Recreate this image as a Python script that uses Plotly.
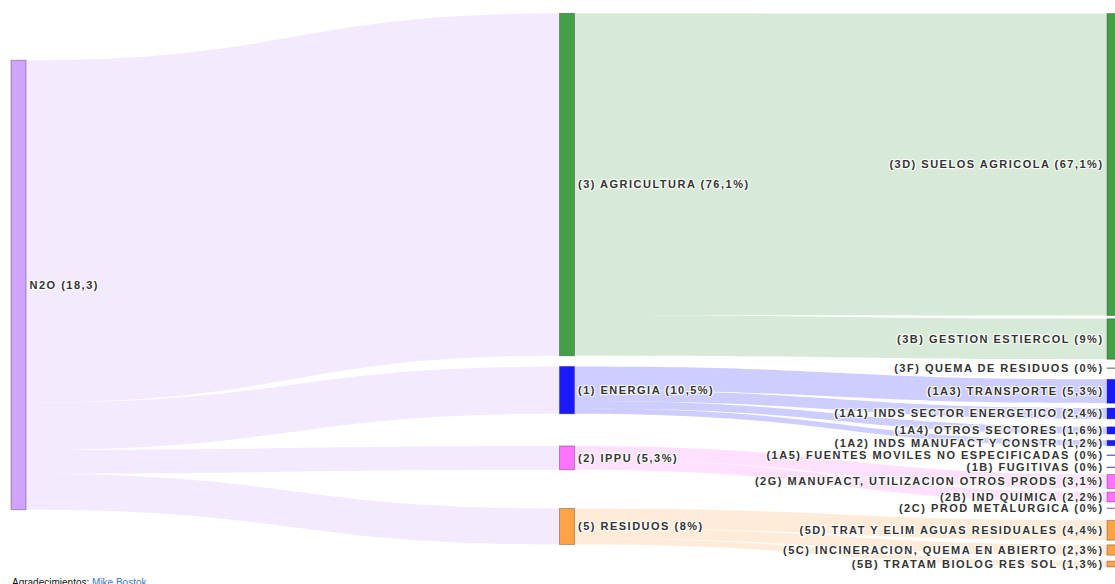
import plotly.graph_objects as go

# --- datos (porcentaje del total de N2O) ---
total_label = "N2O (18,3)"

sectores = ["(3) AGRICULTURA", "(1) ENERGIA", "(2) IPPU", "(5) RESIDUOS"]
sector_pct = [76.1, 10.5, 5.3, 8.0]
sector_colors = ["#43a047", "#1a1aff", "#ff73ff", "#ffa347"]

subsectores = [
    "(3D) SUELOS AGRICOLA", "(3B) GESTION ESTIERCOL", "(3F) QUEMA DE RESIDUOS",
    "(1A3) TRANSPORTE", "(1A1) INDS SECTOR ENERGETICO", "(1A4) OTROS SECTORES",
    "(1A2) INDS MANUFACT Y CONSTR", "(1A5) FUENTES MOVILES NO ESPECIFICADAS", "(1B) FUGITIVAS",
    "(2G) MANUFACT, UTILIZACION OTROS PRODS", "(2B) IND QUIMICA", "(2C) PROD METALURGICA",
    "(5D) TRAT Y ELIM AGUAS RESIDUALES", "(5C) INCINERACION, QUEMA EN ABIERTO", "(5B) TRATAM BIOLOG RES SOL",
]
subsector_parent = [0, 0, 0, 1, 1, 1, 1, 1, 1, 2, 2, 2, 3, 3, 3]
subsector_pct = [67.1, 9.0, 0.01, 5.3, 2.4, 1.6, 1.2, 0.01, 0.01, 3.1, 2.2, 0.01, 4.4, 2.3, 1.3]

# --- posiciones de los nodos (centros, fraccion del area) ---
node_x = [0.0166, 0.5085, 0.5085, 0.5085, 0.5085] + [0.9996] * len(subsectores)
node_y = [0.488, 0.316, 0.668, 0.784, 0.9015,
          0.2817, 0.5805, 0.630, 0.670, 0.708, 0.737, 0.7586, 0.779, 0.7997,
          0.8245, 0.851, 0.870, 0.908, 0.9418, 0.9658]


def fmt(v):
    return ("%.1f" % v).rstrip("0").rstrip(".").replace(".", ",")


def rgba(hx, a):
    hx = hx.lstrip("#")
    return "rgba(%d,%d,%d,%s)" % (int(hx[0:2], 16), int(hx[2:4], 16), int(hx[4:6], 16), a)


labels = [total_label]
labels += ["%s (%s%%)" % (n, fmt(v)) for n, v in zip(sectores, sector_pct)]
labels += ["%s (%s%%)" % (n, fmt(v)) for n, v in zip(subsectores, subsector_pct)]

colors = ["#d0a3fc"] + sector_colors + [sector_colors[p] for p in subsector_parent]

src, tgt, val, lcol = [], [], [], []
for i, v in enumerate(sector_pct):
    src.append(0)
    tgt.append(1 + i)
    val.append(v)
    lcol.append("rgba(200,150,250,0.2)")
for j, (p, v) in enumerate(zip(subsector_parent, subsector_pct)):
    src.append(1 + p)
    tgt.append(5 + j)
    val.append(v)
    lcol.append(rgba(sector_colors[p], 0.22) if v >= 0.05 else "rgba(0,0,0,0)")

fig = go.Figure(go.Sankey(
    arrangement="fixed",
    domain=dict(x=[0, 1], y=[0, 1]),
    node=dict(
        label=labels,
        x=node_x,
        y=node_y,
        pad=9.6,
        thickness=15,
        color=colors,
        line=dict(color="rgba(0,0,0,0.3)", width=1),
        hoverinfo="none",
    ),
    link=dict(source=src, target=tgt, value=val, color=lcol, hoverinfo="none"),
    textfont=dict(family="Liberation Sans, Arial, sans-serif", size=11, color="#333333", weight="bold"),
))

fig.add_annotation(
    xref="paper", yref="paper", x=0, y=0, xanchor="left", yanchor="top",
    xshift=10, yshift=9, showarrow=False,
    text='Agradecimientos: <a href="https://bost.ocks.org/mike/" style="color:#3a78c8">Mike Bostok</a>',
    font=dict(family="Liberation Sans, Arial, sans-serif", size=10, color="#111111"),
)

fig.update_layout(
    width=1115, height=584,
    margin=dict(l=0, r=0, t=0, b=0),
    paper_bgcolor="white",
    plot_bgcolor="white",
)

# quitar el margen del body y espaciar las letras de las etiquetas
fig.write_html(
    "out.html",
    config={"displayModeBar": False},
    post_script=(
        "document.body.style.margin='0';"
        "document.querySelectorAll('.node-label').forEach(function(t){t.style.letterSpacing='1.5px';});"
    ),
)
